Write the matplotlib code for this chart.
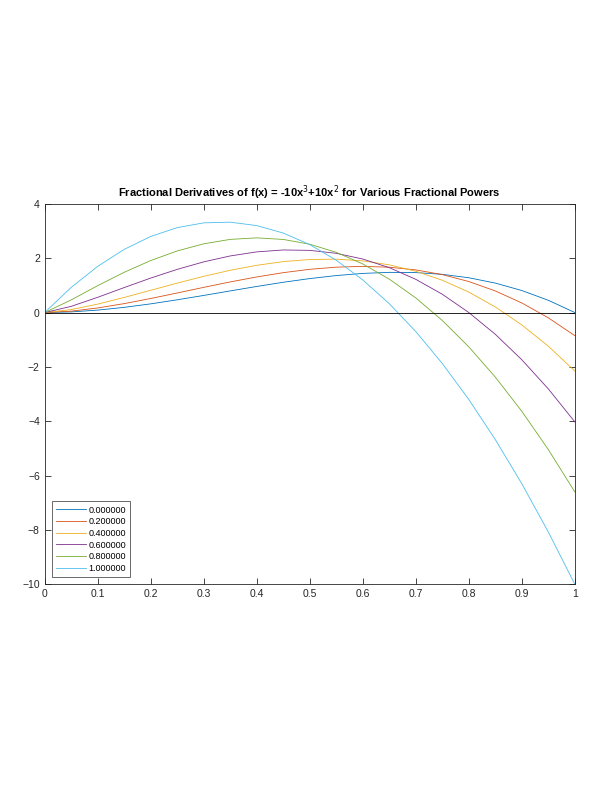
import matplotlib
matplotlib.use('Agg')
import matplotlib.pyplot as plt

# Curve values at x = 0, 0.05, ..., 1
x = [0.00, 0.05, 0.10, 0.15, 0.20, 0.25, 0.30, 0.35, 0.40, 0.45, 0.50,
     0.55, 0.60, 0.65, 0.70, 0.75, 0.80, 0.85, 0.90, 0.95, 1.00]

orders = ['0.000000', '0.200000', '0.400000', '0.600000', '0.800000', '1.000000']

d_00 = [0.000, 0.024, 0.090, 0.191, 0.320, 0.469, 0.630, 0.796, 0.960, 1.114, 1.250,
        1.361, 1.440, 1.479, 1.470, 1.406, 1.280, 1.084, 0.810, 0.451, 0.000]
d_02 = [0.000, 0.051, 0.169, 0.329, 0.517, 0.720, 0.927, 1.127, 1.310, 1.468, 1.591,
        1.670, 1.699, 1.668, 1.569, 1.396, 1.141, 0.795, 0.352, -0.194, -0.852]
d_04 = [0.000, 0.109, 0.311, 0.556, 0.819, 1.083, 1.333, 1.555, 1.739, 1.874, 1.952,
        1.964, 1.901, 1.756, 1.520, 1.188, 0.753, 0.207, -0.455, -1.239, -2.152]
d_06 = [0.000, 0.228, 0.561, 0.919, 1.269, 1.589, 1.865, 2.083, 2.232, 2.303, 2.288,
        2.179, 1.969, 1.652, 1.222, 0.673, 0.000, -0.801, -1.737, -2.810, -4.025]
d_08 = [0.000, 0.465, 0.989, 1.482, 1.914, 2.267, 2.529, 2.692, 2.748, 2.690, 2.514,
        2.215, 1.788, 1.230, 0.538, -0.292, -1.262, -2.376, -3.635, -5.043, -6.601]
d_10 = [0.000, 0.925, 1.700, 2.325, 2.800, 3.125, 3.300, 3.325, 3.200, 2.925, 2.500,
        1.925, 1.200, 0.325, -0.700, -1.875, -3.200, -4.675, -6.300, -8.075, -10.000]

series = [d_00, d_02, d_04, d_06, d_08, d_10]
colors = ['#0072BD', '#D95319', '#EDB120', '#7E2F8E', '#77AC30', '#4DBEEE']

plt.rcParams['font.family'] = ['Liberation Sans', 'DejaVu Sans']

fig = plt.figure(figsize=(6.08, 7.87), dpi=100)
ax = fig.add_axes([0.0735, 0.2575, 0.872, 0.4835])

for vals, c, lab in zip(series, colors, orders):
    ax.plot(x, vals, color=c, lw=0.6, label=lab)
ax.axhline(0, color='black', lw=0.6)

ax.set_xlim(0, 1)
ax.set_ylim(-10, 4)
ax.set_xticks([i / 10 for i in range(11)])
ax.set_xticklabels(['0', '0.1', '0.2', '0.3', '0.4', '0.5', '0.6', '0.7', '0.8', '0.9', '1'])
ax.set_yticks(range(-10, 5, 2))
ax.tick_params(direction='in', top=True, right=True, length=4, width=0.6,
               labelsize=7.5, colors='#262626')
for s in ax.spines.values():
    s.set_linewidth(0.6)
    s.set_color('#262626')

ax.set_title('Fractional Derivatives of f(x) = -10x$^3$+10x$^2$ for Various Fractional Powers',
             fontsize=8, fontweight='bold', pad=5)

leg = ax.legend(loc='lower left', fontsize=6.5, frameon=True, fancybox=False,
                edgecolor='#262626', handlelength=3.3, borderaxespad=0.8,
                labelspacing=0.3, borderpad=0.45, handletextpad=0.3)
leg.get_frame().set_linewidth(0.6)

fig.savefig('out.png', dpi=100)
